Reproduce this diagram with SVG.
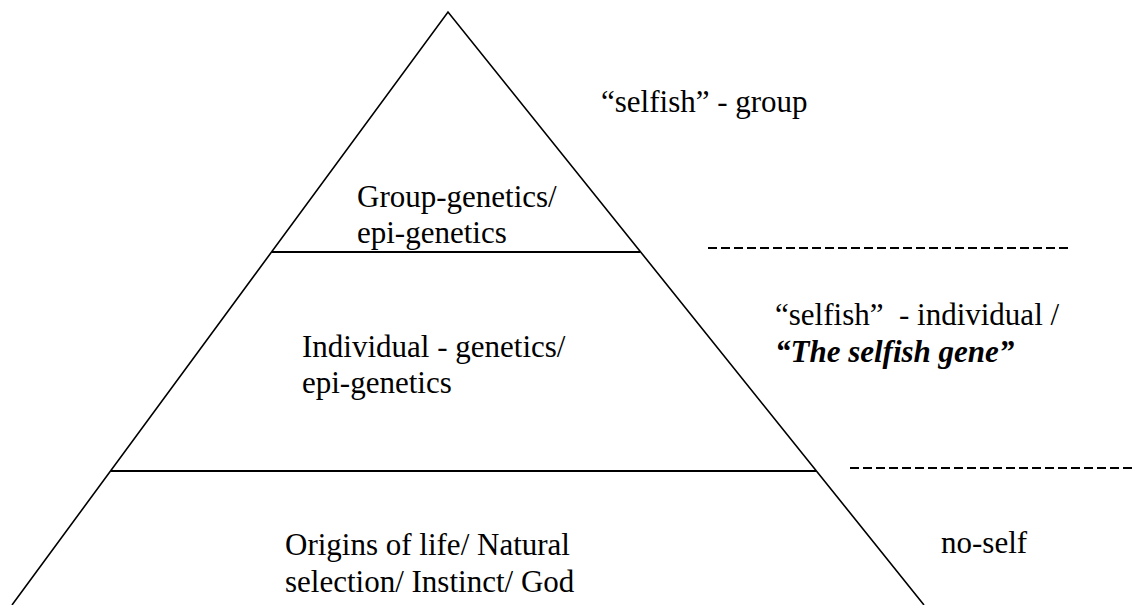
<svg xmlns="http://www.w3.org/2000/svg" width="1134" height="605" viewBox="0 0 1134 605">
<defs>
<style>
.t{font-family:'Liberation Serif','Times New Roman',serif;font-size:31px;fill:#000}
.bi{font-weight:bold;font-style:italic}
.edge{stroke:#000;stroke-width:1.6;fill:none}
.tier{stroke:#000;stroke-width:2;fill:none}
.dash{stroke:#000;stroke-width:2.2;stroke-dasharray:9 4;fill:none}
</style>
</defs>
<rect width="1134" height="605" fill="#fff"/>
<g id="connectors">
<path class="edge" d="M12,605 L448,12 L924,605"/>
<line class="tier" x1="272" y1="252" x2="640" y2="252"/>
<line class="tier" x1="111" y1="471" x2="816" y2="471"/>
<line class="dash" x1="708" y1="248" x2="1068" y2="248"/>
<line class="dash" x1="850" y1="468" x2="1134" y2="468"/>
</g>
<g id="tier-top">
<text class="t" x="357" y="207">Group-genetics/</text>
<text class="t" x="357" y="243">epi-genetics</text>
</g>
<g id="tier-middle">
<text class="t" x="302" y="357">Individual - genetics/</text>
<text class="t" x="302" y="393">epi-genetics</text>
</g>
<g id="tier-bottom">
<text class="t" x="285" y="555">Origins of life/ Natural</text>
<text class="t" x="285" y="592">selection/ Instinct/ God</text>
</g>
<g id="label-group">
<text class="t" x="601" y="112">“selfish” - group</text>
</g>
<g id="label-individual">
<text class="t" x="775" y="325" style="white-space:pre" xml:space="preserve">“selfish”  - individual /</text>
<text class="t bi" x="775" y="362">“The selfish gene”</text>
</g>
<g id="label-noself">
<text class="t" x="941" y="553">no-self</text>
</g>
</svg>
